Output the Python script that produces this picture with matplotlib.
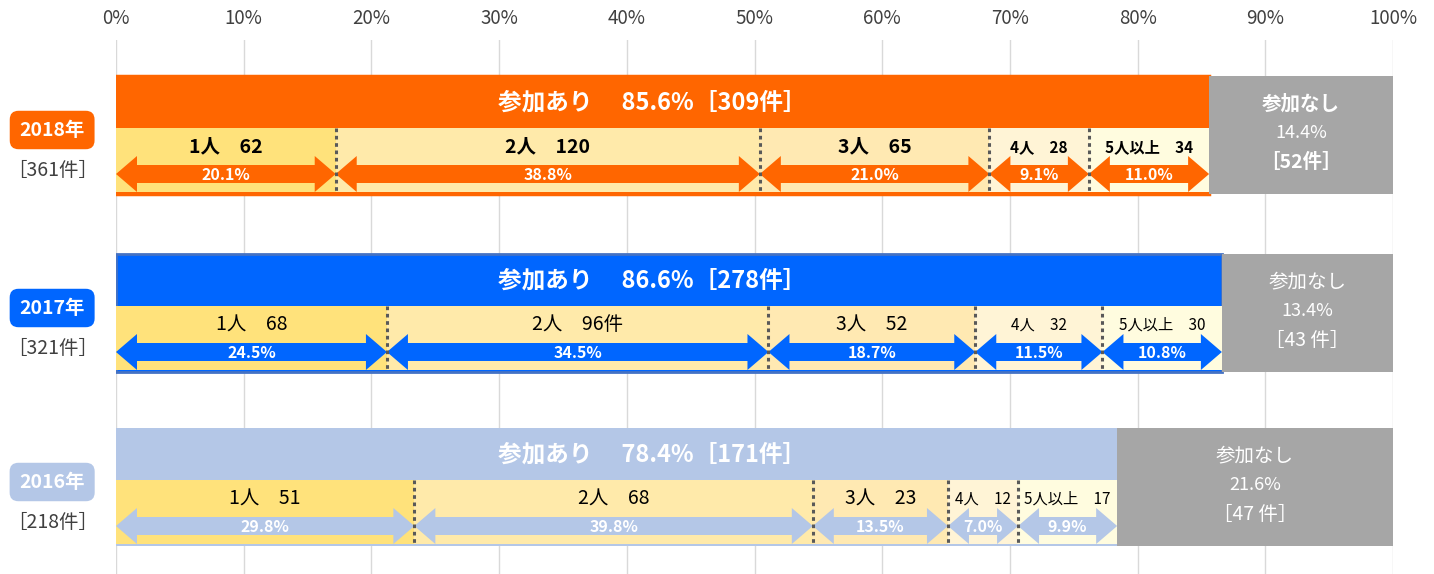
import matplotlib
matplotlib.use("Agg")
import matplotlib.pyplot as plt
from matplotlib.patches import Polygon
import numpy as np

plt.rcParams['font.family'] = ['Noto Sans CJK JP', 'DejaVu Sans']

# data
years = ['2018年', '2017年', '2016年']
totals = [361, 321, 218]
join_pct = [85.6, 86.6, 78.4]
join_n = [309, 278, 171]
nojoin_pct = [14.4, 13.4, 21.6]
nojoin_n = [52, 43, 47]
groups = ['1人', '2人', '3人', '4人', '5人以上']
group_n = [[62, 120, 65, 28, 34],
           [68, 96, 52, 32, 30],
           [51, 68, 23, 12, 17]]
group_pct = [[20.1, 38.8, 21.0, 9.1, 11.0],
             [24.5, 34.5, 18.7, 11.5, 10.8],
             [29.8, 39.8, 13.5, 7.0, 9.9]]
group_suffix = [['', '', '', '', ''],
                ['', '件', '', '', ''],
                ['', '', '', '', '']]

# style
ROW_COLORS = ['#FF6600', '#0066FF', '#B4C7E7']
EDGE_COLORS = ['#FF6600', '#4472C4', '#B4C7E7']
EDGE_LW = [2.5, 2.0, 0]
SEG_COLORS = ['#FFE27B', '#FFEAAA', '#FFE9B2', '#FFF4D6', '#FFFCDF']
GRAY = '#A6A6A6'
DARK = '#404040'
BOLD_ROW = [True, False, False]
NOJOIN_SEP = ['', ' ', ' ']

ROW_TOP = [76, 254, 428]
ROW_H = 118
BAND_H = 52
SUB_H = 64
PX = 12.77  # pixels per percent

fig = plt.figure(figsize=(14.34, 5.74), dpi=100)
ax = fig.add_axes([116 / 1434, 0, 1277 / 1434, 534 / 574])
ax.set_xlim(0, 100)
ax.set_ylim(574, 40)
for s in ax.spines.values():
    s.set_visible(False)
ax.set_yticks([])
ax.set_xticks(range(0, 101, 10))
ax.set_xticklabels([f'{v}%' for v in range(0, 101, 10)])
ax.xaxis.tick_top()
ax.tick_params(axis='x', length=0, pad=8, labelsize=13.5, labelcolor=DARK)
ax.grid(axis='x', color='#D9D9D9', lw=1)
ax.set_axisbelow(True)

hl = 21 / PX  # arrow head length in percent

for i in range(3):
    top = ROW_TOP[i]
    col = ROW_COLORS[i]
    wt = 'bold' if BOLD_ROW[i] else 'normal'

    # main bars
    ax.barh(top + ROW_H / 2, join_pct[i], left=0, height=ROW_H, color=col,
            edgecolor=EDGE_COLORS[i], linewidth=EDGE_LW[i], zorder=2)
    ax.barh(top + ROW_H / 2, nojoin_pct[i], left=join_pct[i], height=ROW_H,
            color=GRAY, zorder=2)

    # sub segments
    widths = np.array(group_pct[i]) * join_pct[i] / 100
    bounds = np.concatenate([[0], np.cumsum(widths)])
    sub_top = top + BAND_H
    sub_bot = sub_top + SUB_H
    ax.barh(sub_top + SUB_H / 2, widths, left=bounds[:-1], height=SUB_H,
            color=SEG_COLORS, zorder=3)
    ax.vlines(bounds[1:-1], sub_top, sub_bot + 2, colors='#595959',
              linestyles=(0, (1.2, 1.2)), linewidth=2.2, zorder=6)

    # double arrows + labels
    yc = sub_bot - 18
    for j in range(5):
        x0, x1 = bounds[j], bounds[j + 1]
        pts = [(x0, yc), (x0 + hl, yc - 18), (x0 + hl, yc - 9), (x1 - hl, yc - 9),
               (x1 - hl, yc - 18), (x1, yc), (x1 - hl, yc + 18), (x1 - hl, yc + 9),
               (x0 + hl, yc + 9), (x0 + hl, yc + 18)]
        ax.add_patch(Polygon(pts, closed=True, color=col, lw=0, zorder=4))
        ax.text((x0 + x1) / 2, yc + 1, f'{group_pct[i][j]:.1f}%', color='white',
                fontsize=11.5, fontweight='bold', ha='center', va='center', zorder=5)
        fs = 14 if j < 3 else 11
        ax.text((x0 + x1) / 2, sub_top + 19,
                f'{groups[j]}　{group_n[i][j]}{group_suffix[i][j]}',
                color='black', fontsize=fs, fontweight=wt, ha='center',
                va='center', zorder=5)

    # band title
    ax.text(42, top + BAND_H / 2 + 1,
            f'参加あり　 {join_pct[i]:.1f}%［{join_n[i]}件］', color='white',
            fontsize=17, fontweight='bold', ha='center', va='center', zorder=5)

    # no participation
    xg = join_pct[i] + nojoin_pct[i] / 2
    ax.text(xg, top + 28, '参加なし', color='white', fontsize=14,
            fontweight=wt, ha='center', va='center', zorder=5)
    ax.text(xg, top + 57, f'{nojoin_pct[i]:.1f}%', color='white', fontsize=13,
            ha='center', va='center', zorder=5)
    ax.text(xg, top + 86, f'［{nojoin_n[i]}{NOJOIN_SEP[i]}件］', color='white',
            fontsize=14, fontweight=wt, ha='center', va='center', zorder=5)

    # year label on left
    ax.text(-5.0, top + 54, years[i], color='white', fontsize=14,
            fontweight='bold', ha='center', va='center', clip_on=False,
            bbox=dict(boxstyle='round,pad=0.5,rounding_size=0.45', fc=col, ec='none'))
    ax.text(-5.0, top + 94, f'［{totals[i]}件］', color=DARK, fontsize=14,
            ha='center', va='center', clip_on=False)

fig.savefig('out.png', dpi=100)
